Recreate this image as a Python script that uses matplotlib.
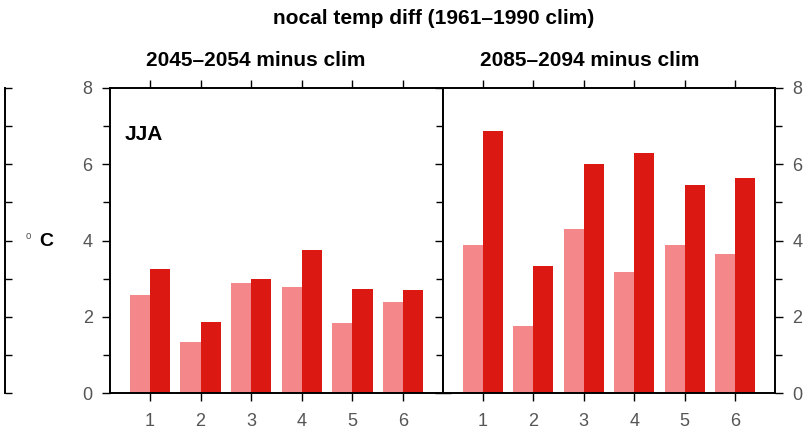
import numpy as np
import matplotlib
matplotlib.use("Agg")
import matplotlib.pyplot as plt
from matplotlib.ticker import MultipleLocator

plt.rcParams['font.family'] = ['Liberation Sans', 'DejaVu Sans']

# data (deg C)
regions = [1, 2, 3, 4, 5, 6]
mid_light = [2.57, 1.33, 2.88, 2.79, 1.83, 2.40]
mid_dark = [3.25, 1.85, 2.98, 3.75, 2.72, 2.69]
end_light = [3.88, 1.76, 4.30, 3.18, 3.88, 3.64]
end_dark = [6.86, 3.34, 6.01, 6.29, 5.46, 5.65]

titles = ["2045\u20132054 minus clim", "2085\u20132094 minus clim"]
suptitle = "nocal temp diff (1961\u20131990 clim)"
season = "JJA"

light_col = "#f4878a"
dark_col = "#dc1812"
tick_col = "#555555"

fig = plt.figure(figsize=(8.07, 4.30), dpi=100)

bottom = 1 - 393 / 430
height = 305 / 430
ax_l = fig.add_axes([110 / 807, bottom, 333 / 807, height])
ax_r = fig.add_axes([443 / 807, bottom, 332 / 807, height])
# sliver of the panel that sits off to the left
ax_p = fig.add_axes([-0.3, bottom, 0.3 + 5 / 807, height])

x = np.array(regions, dtype=float)
w = 0.4


def style(ax):
    ax.set_xlim(0.21, 6.79)
    ax.set_ylim(0, 8)
    for s in ax.spines.values():
        s.set_linewidth(1.4)
    ax.yaxis.set_major_locator(MultipleLocator(2))
    ax.yaxis.set_minor_locator(MultipleLocator(1))
    ax.set_xticks(regions)
    ax.tick_params(which="both", direction="out", length=5.5, width=1,
                   colors="black", labelcolor=tick_col, labelsize=13,
                   top=True, bottom=True, left=True, right=True,
                   labeltop=False, labelbottom=True, labelleft=False,
                   labelright=False)
    ax.tick_params(axis="x", pad=9)
    ax.tick_params(axis="y", pad=7)
    ax.tick_params(which="minor", length=5, top=False, bottom=False)


for ax, lt, dk, title, tx in [(ax_l, mid_light, mid_dark, titles[0], 0.438),
                              (ax_r, end_light, end_dark, titles[1], 0.443)]:
    ax.bar(x - w / 2, lt, width=w, color=light_col, linewidth=0)
    ax.bar(x + w / 2, dk, width=w, color=dark_col, linewidth=0)
    style(ax)
    ax.set_title(title, fontsize=15, fontweight="bold", pad=16, x=tx)

ax_l.tick_params(labelleft=True)
ax_r.tick_params(labelright=True)
ax_l.text(0.045, 0.88, season, transform=ax_l.transAxes, fontsize=15,
          fontweight="bold", va="top")

ax_p.set_xlim(0, 1)
ax_p.set_ylim(0, 8)
ax_p.bar([0.5], [0])
for k in ["top", "bottom", "left"]:
    ax_p.spines[k].set_visible(False)
ax_p.spines["right"].set_linewidth(1.4)
ax_p.set_xticks([])
ax_p.yaxis.set_major_locator(MultipleLocator(2))
ax_p.yaxis.set_minor_locator(MultipleLocator(1))
ax_p.tick_params(which="both", left=False, right=True, labelleft=False,
                 direction="out", length=5, width=1)

# unit label: small raised degree sign, then C
fig.text(31 / 807, 1 - 236 / 430, "o", fontsize=7, color=tick_col,
         ha="right", va="center")
fig.text(39 / 807, 1 - 241 / 430, "C", fontsize=14, fontweight="bold",
         ha="left", va="center")
fig.text(434 / 807, 1 - 18 / 430, suptitle, fontsize=15, fontweight="bold",
         ha="center", va="center")

fig.savefig("out.png", dpi=100)
